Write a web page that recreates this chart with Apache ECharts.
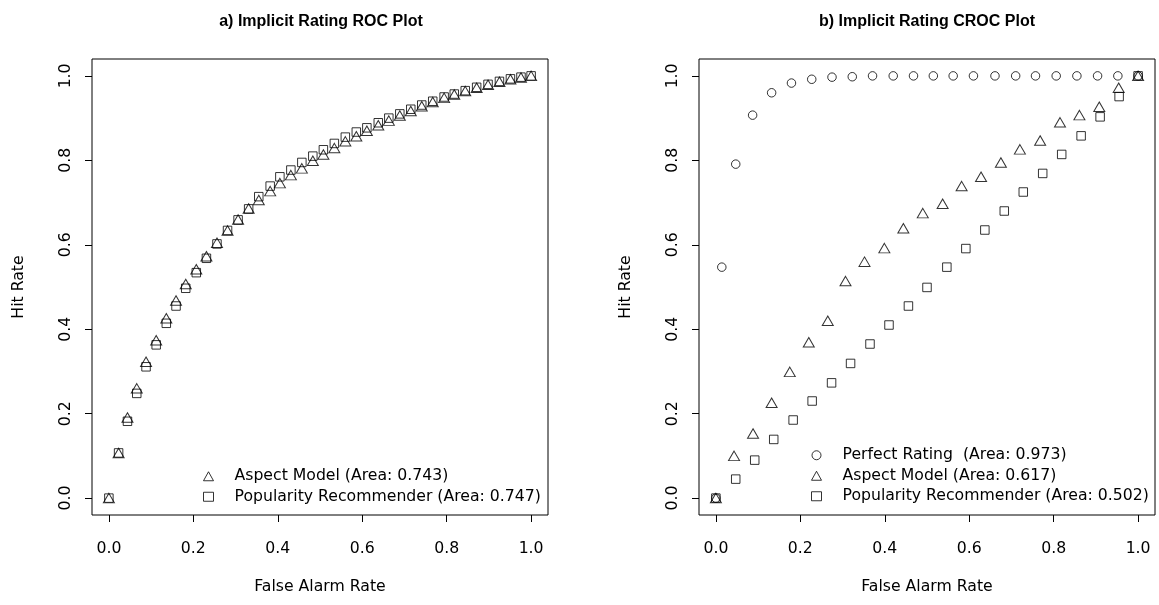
<!DOCTYPE html>
<html><head><meta charset="utf-8">
<script src="https://cdn.jsdelivr.net/npm/echarts@6/dist/echarts.min.js"></script>
<style>html,body{margin:0;padding:0;background:#fff}#c{width:1159px;height:605px}</style>
</head><body><div id="c"></div>
<script>
// ---------- data ----------
const tickValues = [0, 0.2, 0.4, 0.6, 0.8, 1.0];
const titles = ['a) Implicit Rating ROC Plot', 'b) Implicit Rating CROC Plot'];
const xAxisTitle = 'False Alarm Rate';
const yAxisTitle = 'Hit Rate';

// a) ROC plot
const rocX = [0, 0.023, 0.044, 0.066, 0.088, 0.112, 0.136, 0.159, 0.182, 0.207, 0.231, 0.256, 0.281, 0.306, 0.331, 0.355, 0.382, 0.405, 0.431, 0.457, 0.483, 0.508, 0.534, 0.560, 0.586, 0.611, 0.638, 0.663, 0.689, 0.715, 0.741, 0.767, 0.794, 0.818, 0.844, 0.871, 0.898, 0.925, 0.951, 0.976, 1.0];
const rocAspect = [0, 0.107, 0.191, 0.260, 0.323, 0.374, 0.426, 0.468, 0.507, 0.542, 0.573, 0.605, 0.634, 0.660, 0.686, 0.706, 0.727, 0.746, 0.765, 0.781, 0.799, 0.814, 0.829, 0.845, 0.857, 0.870, 0.883, 0.894, 0.906, 0.917, 0.928, 0.938, 0.948, 0.956, 0.964, 0.972, 0.979, 0.986, 0.992, 0.996, 1.0];
const rocPopularity = [0, 0.107, 0.182, 0.248, 0.311, 0.363, 0.414, 0.455, 0.497, 0.534, 0.568, 0.602, 0.634, 0.659, 0.685, 0.714, 0.739, 0.761, 0.777, 0.795, 0.810, 0.825, 0.840, 0.855, 0.867, 0.877, 0.889, 0.900, 0.910, 0.921, 0.931, 0.940, 0.950, 0.957, 0.965, 0.973, 0.980, 0.987, 0.993, 0.997, 1.0];
const rocNames = ['Aspect Model (Area: 0.743)', 'Popularity Recommender (Area: 0.747)'];

// b) CROC plot
const crocPerfectX = [0, 0.014, 0.047, 0.087, 0.132, 0.179, 0.227, 0.275, 0.323, 0.371, 0.420, 0.468, 0.515, 0.562, 0.610, 0.661, 0.710, 0.757, 0.806, 0.855, 0.904, 0.952, 1.0];
const crocPerfectY = [0, 0.547, 0.791, 0.907, 0.960, 0.983, 0.992, 0.997, 0.998, 1, 1, 1, 1, 1, 1, 1, 1, 1, 1, 1, 1, 1, 1];
const crocAspectX = [0, 0.043, 0.088, 0.132, 0.175, 0.220, 0.265, 0.307, 0.352, 0.399, 0.444, 0.490, 0.537, 0.582, 0.628, 0.675, 0.720, 0.768, 0.815, 0.861, 0.908, 0.954, 1.0];
const crocAspectY = [0, 0.100, 0.153, 0.226, 0.299, 0.369, 0.420, 0.514, 0.560, 0.592, 0.639, 0.675, 0.697, 0.739, 0.761, 0.795, 0.826, 0.847, 0.890, 0.907, 0.927, 0.972, 1.0];
const crocPopX = [0, 0.047, 0.092, 0.137, 0.183, 0.228, 0.274, 0.319, 0.365, 0.410, 0.456, 0.500, 0.547, 0.592, 0.637, 0.683, 0.728, 0.774, 0.819, 0.865, 0.910, 0.955, 1.0];
const crocPopY = [0, 0.045, 0.090, 0.139, 0.185, 0.230, 0.273, 0.319, 0.365, 0.410, 0.455, 0.499, 0.547, 0.591, 0.635, 0.680, 0.725, 0.769, 0.814, 0.858, 0.903, 0.951, 1.0];
const crocNames = ['Perfect Rating  (Area: 0.973)', 'Aspect Model (Area: 0.617)', 'Popularity Recommender (Area: 0.502)'];

// ---------- styling ----------
const FONT = 'DejaVu Sans';
const FS = 15.7;
const pairs = (xs, ys) => xs.map((v, i) => [v, ys[i]]);
const hollow = { color: 'rgba(0,0,0,0)', borderColor: '#000', borderWidth: 1 };

function xAxisFor(gi) {
  return {
    gridIndex: gi, type: 'value', min: -0.04, max: 1.04,
    name: xAxisTitle, nameLocation: 'middle', nameGap: 64, nameMoveOverlap: false,
    nameTextStyle: { fontFamily: FONT, fontSize: FS, color: '#000' },
    axisLine: { show: false, onZero: false },
    axisTick: { show: true, customValues: tickValues, length: 7, lineStyle: { color: '#000', width: 1 } },
    axisLabel: { show: true, customValues: tickValues, margin: 26, fontFamily: FONT, fontSize: FS, color: '#000',
      formatter: v => v.toFixed(1) },
    splitLine: { show: false }
  };
}
function yAxisFor(gi) {
  return {
    gridIndex: gi, type: 'value', min: -0.04, max: 1.04,
    name: yAxisTitle, nameLocation: 'middle', nameGap: 65, nameRotate: 90, nameMoveOverlap: false,
    nameTextStyle: { fontFamily: FONT, fontSize: FS, color: '#000' },
    axisLine: { show: false, onZero: false },
    axisTick: { show: true, customValues: tickValues, length: 7, lineStyle: { color: '#000', width: 1 } },
    axisLabel: { show: true, customValues: tickValues, margin: 18, rotate: 90, fontFamily: FONT, fontSize: FS, color: '#000',
      formatter: v => v.toFixed(1) },
    splitLine: { show: false }
  };
}
function legendFor(names, left, top) {
  return {
    data: names, orient: 'vertical', left: left, top: top, padding: 0, itemGap: 0,
    itemWidth: 10, itemHeight: 9, selectedMode: false,
    itemStyle: { borderWidth: 1, borderColor: '#000', color: 'rgba(0,0,0,0)' },
    textStyle: { fontFamily: FONT, fontSize: FS, color: '#000', lineHeight: 20.5, padding: [0, 0, 0, 16] }
  };
}

const chart = echarts.init(document.getElementById('c'), null, { renderer: 'canvas' });
chart.setOption({
  animation: false,
  backgroundColor: '#fff',
  title: [
    { text: titles[0], left: 316, top: 9, textAlign: 'center', textStyle: { fontFamily: 'Liberation Sans', fontSize: 16, fontWeight: 'bold', color: '#000' } },
    { text: titles[1], left: 922, top: 9, textAlign: 'center', textStyle: { fontFamily: 'Liberation Sans', fontSize: 16, fontWeight: 'bold', color: '#000' } }
  ],
  grid: [
    { left: 92, top: 59, width: 456, height: 456, show: true, borderColor: '#000', borderWidth: 1, backgroundColor: 'transparent' },
    { left: 699, top: 59, width: 456, height: 456, show: true, borderColor: '#000', borderWidth: 1, backgroundColor: 'transparent' }
  ],
  xAxis: [xAxisFor(0), xAxisFor(1)],
  yAxis: [yAxisFor(0), yAxisFor(1)],
  legend: [legendFor(rocNames, 203, 466), legendFor(crocNames, 811, 445)],
  series: [
    { name: rocNames[0], type: 'scatter', xAxisIndex: 0, yAxisIndex: 0, symbol: 'triangle', symbolSize: [11, 9.5], itemStyle: hollow, data: pairs(rocX, rocAspect) },
    { name: rocNames[1], type: 'scatter', xAxisIndex: 0, yAxisIndex: 0, symbol: 'rect', symbolSize: 8.5, itemStyle: hollow, data: pairs(rocX, rocPopularity) },
    { name: crocNames[0], type: 'scatter', xAxisIndex: 1, yAxisIndex: 1, symbol: 'circle', symbolSize: 8.5, itemStyle: hollow, data: pairs(crocPerfectX, crocPerfectY) },
    { name: crocNames[1], type: 'scatter', xAxisIndex: 1, yAxisIndex: 1, symbol: 'triangle', symbolSize: [11, 9.5], itemStyle: hollow, data: pairs(crocAspectX, crocAspectY) },
    { name: crocNames[2], type: 'scatter', xAxisIndex: 1, yAxisIndex: 1, symbol: 'rect', symbolSize: 8.5, itemStyle: hollow, data: pairs(crocPopX, crocPopY) }
  ]
});
</script></body></html>
